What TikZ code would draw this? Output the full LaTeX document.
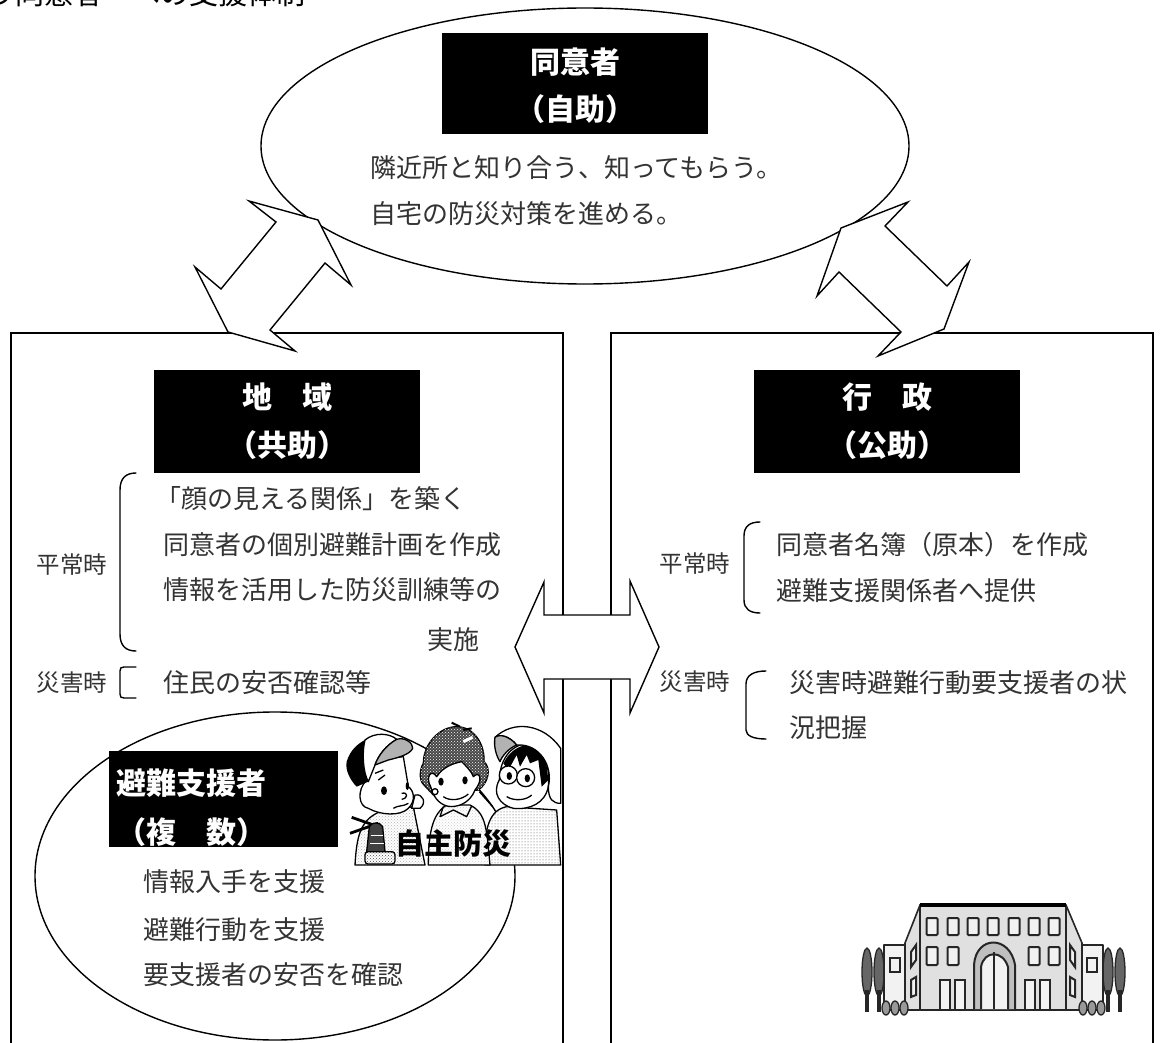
\documentclass[tikz,border=0pt]{standalone}
\usepackage{fontspec}
\usetikzlibrary{patterns}
\newfontfamily\jpfont{Noto Sans CJK JP}
\definecolor{bodyink}{HTML}{333333}
\tikzset{
  line/.style={draw=black,line width=1.4pt},
  arrowshape/.style={draw=black,line width=1.4pt,fill=white,line join=miter,miter limit=6},
  header/.style={fill=black,inner sep=0pt,outer sep=0pt},
  headtext/.style={text=white,inner sep=0pt,font=\jpfont\bfseries\fontsize{30}{30}\selectfont},
  bodytext/.style={anchor=west,inner sep=0pt,text=bodyink,font=\jpfont\fontsize{26}{26}\selectfont},
  sidetext/.style={anchor=center,inner sep=0pt,text=bodyink,font=\jpfont\fontsize{23.5}{24}\selectfont},
  bracket/.style={draw=black,line width=1.4pt,line cap=round},
  ink/.style={draw=black,line width=1.3pt,line join=round},
  wall/.style={draw=black!85,line width=1.6pt,fill=black!12,line join=round},
  pane/.style={draw=black!85,line width=2pt,fill=black!5},
  tree/.style={draw=black!85,line width=1.3pt,fill=black!60},
}
\begin{document}
\begin{tikzpicture}[x=1pt,y=-1pt]
\clip (0,0) rectangle (1163,1043);
\useasboundingbox (0,0) rectangle (1163,1043);
\fill[white] (0,0) rectangle (1163,1043);

% title, cropped by the top edge of the page
\node[anchor=base east,inner sep=0pt,font=\jpfont\fontsize{29}{29}\selectfont] (title) at (306,5) {う同意者　への支援体制};

% boxes
\draw[line] (11,1050) -- (11,333) -- (563,333) -- (563,1050);
\draw[line] (611,1050) -- (611,333) -- (1153,333) -- (1153,1050);

% top ellipse
\draw[line] (585,146) ellipse [x radius=324,y radius=138];

% double arrows
\draw[arrowshape] (318,220) -- (351,285) -- (325,263) -- (270,330) -- (295,351) -- (228,332) -- (195,267) -- (221,289) -- (276,222) -- (249,201) -- cycle;
\draw[arrowshape] (841,228) -- (817,296) -- (839,272) -- (901,332) -- (878,356) -- (944,329) -- (969,262) -- (947,286) -- (885,226) -- (908,202) -- cycle;
\draw[arrowshape] (515,647) -- (544,582) -- (544,615) -- (630,615) -- (630,581) -- (659,647) -- (630,713) -- (630,679) -- (544,679) -- (544,713) -- cycle;

% top header
\fill[header] (442,33) rectangle (708,134);
\node[headtext] (selfa) at (575,62) {同意者};
\node[headtext] (selfb) at (575,109) {（自助）};
\node[bodytext] (selfc) at (370,168) {隣近所と知り合う、知ってもらう。};
\node[bodytext] (selfd) at (370,214) {自宅の防災対策を進める。};

% left header
\fill[header] (154,370) rectangle (420,473);
\node[headtext] (coma) at (287,397) {地　域};
\node[headtext] (comb) at (287,445) {（共助）};

% right header
\fill[header] (754,370) rectangle (1020,473);
\node[headtext] (puba) at (887,397) {行　政};
\node[headtext] (pubb) at (887,445) {（公助）};

% left text
\node[sidetext] (la) at (72,565) {平常時};
\draw[bracket] (136,473) .. controls (126,473) and (120,478) .. (120,490) -- (120,634) .. controls (120,646) and (126,651) .. (136,651);
\node[bodytext] (lb) at (155,499) {「顔の見える関係」を築く};
\node[bodytext] (lc) at (163,545) {同意者の個別避難計画を作成};
\node[bodytext] (ld) at (163,590) {情報を活用した防災訓練等の};
\node[bodytext] (le) at (427,640) {実施};
\node[sidetext] (lf) at (72,683) {災害時};
\draw[bracket] (136,667) -- (124,667) .. controls (121,667) and (120,668) .. (120,671) -- (120,694) .. controls (120,697) and (121,698) .. (124,698) -- (136,698);
\node[bodytext] (lg) at (163,683) {住民の安否確認等};

% right text
\node[sidetext] (ra) at (695,564) {平常時};
\draw[bracket] (760,522) .. controls (750,522) and (744,526) .. (744,536) -- (744,600) .. controls (744,609) and (750,613) .. (760,613);
\node[bodytext] (rb) at (776,545) {同意者名簿（原本）を作成};
\node[bodytext] (rc) at (776,591) {避難支援関係者へ提供};
\node[sidetext] (rd) at (695,682) {災害時};
\draw[bracket] (766,671) .. controls (754,671) and (746,675) .. (746,684) -- (746,730) .. controls (746,736) and (754,739) .. (766,739);
\node[bodytext] (re) at (789,683) {災害時避難行動要支援者の状};
\node[bodytext] (rf) at (789,728) {況把握};

% support ellipse
\draw[line] (275,876) ellipse [x radius=240,y radius=164];
\fill[header] (109,751) rectangle (338,847);
\node[headtext] (supa) at (191,783) {避難支援者};
\node[headtext] (supb) at (191,832) {（複　数）};
\node[bodytext] (supc) at (143,882) {情報入手を支援};
\node[bodytext] (supd) at (143,930) {避難行動を支援};
\node[bodytext] (supe) at (143,975) {要支援者の安否を確認};

% cartoon of three residents (zoomed coordinates, 3 units = 1 pixel)
\begin{scope}[shift={(300,680)},scale=1/3]
  % right person
  \path[ink,preaction={fill=white},pattern=dots,pattern color=black!70] (555,555) .. controls (550,440) and (570,390) .. (620,380) -- (770,390) -- (782,555) -- cycle;
  \path[ink,fill=white] (598,300) .. controls (600,230) and (640,190) .. (690,190) .. controls (730,195) and (750,250) .. (745,320) .. controls (735,370) and (690,390) .. (640,385) .. controls (600,375) and (575,340) .. (598,300) -- cycle;
  \fill[black] (610,250) .. controls (640,190) and (700,180) .. (735,215) -- (745,300) -- (725,320) -- (715,240) -- (690,250) -- (680,225) -- (660,260) -- (650,225) -- (625,270) -- cycle;
  \draw[ink,fill=white] (625,285) circle [radius=27];
  \draw[ink,fill=white] (677,293) circle [radius=27];
  \fill (628,288) circle [x radius=8,y radius=12];
  \fill (682,295) circle [x radius=8,y radius=12];
  \draw[ink] (620,350) .. controls (645,365) and (680,360) .. (695,345);
  \draw[ink,fill=white] (585,172) .. controls (640,120) and (730,130) .. (782,205) -- (782,370) .. controls (760,370) and (745,360) .. (745,320) .. controls (760,260) and (720,190) .. (650,195) .. controls (630,170) and (600,160) .. (585,172) -- cycle;
  \draw[ink,fill=black!30] (585,172) .. controls (600,160) and (630,170) .. (650,195) .. controls (625,205) and (605,230) .. (600,245) .. controls (590,230) and (580,200) .. (585,172) -- cycle;
  % left person
  \path[ink,preaction={fill=white},pattern=crosshatch dots,pattern color=black!30] (165,555) .. controls (170,470) and (180,420) .. (240,395) -- (340,380) -- (375,555) -- cycle;
  \draw[ink,fill=white] (200,300) .. controls (170,330) and (175,380) .. (205,385) .. controls (240,405) and (300,410) .. (325,385) .. controls (350,360) and (340,330) .. (325,320) -- (310,230) -- (230,240) -- cycle;
  \draw[ink,fill=white] (345,345) .. controls (370,340) and (380,370) .. (360,385) -- (335,385) -- cycle;
  \fill (252,332) circle [x radius=9,y radius=13];
  \fill (322,318) circle [x radius=5,y radius=12];
  \draw[ink] (280,385) .. controls (295,375) and (310,380) .. (325,370);
  \draw[ink] (305,340) .. controls (325,335) and (325,355) .. (305,358);
  \draw[ink] (225,280) -- (250,270) (235,300) -- (255,285);
  \fill[black] (140,245) .. controls (150,210) and (175,190) .. (195,180) .. controls (185,220) and (190,280) .. (205,305) -- (170,320) .. controls (150,300) and (135,270) .. (140,245) -- cycle;
  \draw[ink,fill=white] (195,180) .. controls (225,155) and (270,160) .. (290,178) .. controls (260,195) and (235,225) .. (225,255) -- (205,305) .. controls (190,280) and (185,220) .. (195,180) -- cycle;
  \draw[ink,fill=black!30] (290,178) .. controls (315,170) and (340,190) .. (338,205) .. controls (330,225) and (285,235) .. (265,240) -- (225,255) .. controls (235,225) and (260,195) .. (290,178) -- cycle;
  % extinguisher
  \draw[black,line width=2.8pt] (155,412) -- (235,440);
  \draw[black,line width=2.8pt] (150,460) -- (235,430);
  \draw[ink,fill=black!75] (208,440) .. controls (215,425) and (240,425) .. (248,440) -- (255,515) -- (200,515) -- cycle;
  \draw[white,line width=1pt] (212,465) -- (250,465) (210,490) -- (252,490);
  \draw[ink,preaction={fill=white},pattern=crosshatch dots,pattern color=black!70,rounded corners=3pt] (195,515) rectangle (285,552);
  % middle person
  \path[ink,preaction={fill=white},pattern=crosshatch dots,pattern color=black!20] (385,555) .. controls (385,450) and (400,400) .. (440,375) -- (510,375) .. controls (560,400) and (560,450) .. (570,555) -- cycle;
  \draw[ink] (430,380) -- (420,410) -- (460,390) -- (500,410) -- (515,378);
  \draw[ink,fill=black!72] (372,315) .. controls (355,300) and (360,265) .. (370,250) .. controls (370,190) and (420,140) .. (470,140) .. controls (520,140) and (555,190) .. (552,245) .. controls (575,265) and (565,310) .. (535,330) -- (400,345) -- cycle;
  \path[pattern=crosshatch dots,pattern color=white] (372,315) .. controls (355,300) and (360,265) .. (370,250) .. controls (370,190) and (420,140) .. (470,140) .. controls (520,140) and (555,190) .. (552,245) .. controls (575,265) and (565,310) .. (535,330) -- (400,345) -- cycle;
  \draw[ink,fill=white] (392,320) .. controls (375,290) and (395,265) .. (410,290) .. controls (430,260) and (460,250) .. (485,245) .. controls (500,260) and (515,275) .. (520,290) .. controls (540,270) and (550,300) .. (525,330) .. controls (510,370) and (470,385) .. (440,378) .. controls (415,370) and (400,350) .. (392,320) -- cycle;
  \fill (423,305) circle [x radius=8,y radius=12];
  \fill (495,301) circle [x radius=8,y radius=12];
  \draw[ink] (430,350) .. controls (450,365) and (485,360) .. (505,342);
  \draw[black,line width=2pt] (480,140) -- (455,128) (490,150) -- (515,145);
  \draw[white,line width=3pt] (490,185) -- (518,172);
  \draw[ink,fill=white] (405,335) circle [radius=9];
  % ellipse line seen between the heads
  \draw[line] (538,335) -- (578,380);
\end{scope}
\node[inner sep=0pt,font=\jpfont\bfseries\fontsize{29}{29}\selectfont] (bosai) at (453,843) {自主防災};

% town hall
\draw[tree] (867,972) ellipse [x radius=5,y radius=24];
\draw[black!85,line width=4pt] (867,990) -- (867,1012);
\draw[tree] (879,972) ellipse [x radius=5,y radius=24];
\draw[black!85,line width=4pt] (879,990) -- (879,1012);
\draw[tree] (1120,972) ellipse [x radius=5,y radius=24];
\draw[black!85,line width=4pt] (1120,990) -- (1120,1012);
\draw[tree] (1108,972) ellipse [x radius=5,y radius=24];
\draw[black!85,line width=4pt] (1108,990) -- (1108,1012);
\draw[wall,fill=black!5] (884,945) rectangle (905,1010);
\draw[wall,fill=black!5] (1082,945) rectangle (1103,1010);
\draw[pane] (890,958) rectangle (900,972);
\draw[pane] (1087,958) rectangle (1097,972);
\draw[wall] (905,943) -- (920,905) -- (920,1010) -- (905,1010) -- cycle;
\draw[wall] (1082,943) -- (1066,905) -- (1066,1010) -- (1082,1010) -- cycle;
\draw[wall] (920,905) rectangle (1066,1010);
\draw[black,line width=4pt] (920,905) -- (1066,905);
\foreach \cx in {932,953,973,993,1014,1034,1054}{
  \draw[pane,rounded corners=1pt] (\cx-5.5,918) rectangle (\cx+5.5,935);
}
\foreach \cx in {932,953,1034,1054}{
  \draw[pane,rounded corners=1pt] (\cx-5.5,947) rectangle (\cx+5.5,965);
}
\draw[pane] (911,952) -- (916,945) -- (916,960) -- (911,967) -- cycle;
\draw[pane] (911,980) -- (916,977) -- (916,995) -- (911,997) -- cycle;
\draw[pane] (1075,952) -- (1070,945) -- (1070,960) -- (1075,967) -- cycle;
\draw[pane] (1075,980) -- (1070,977) -- (1070,995) -- (1075,997) -- cycle;
\foreach \cx in {940,955,1025,1040}{
  \draw[pane] (\cx,1009) -- (\cx,980) -- (\cx+10,980) -- (\cx+10,1009);
}
\draw[wall,fill=black!25,line width=2pt] (974,1009) -- (974,965) .. controls (976,935) and (1010,935) .. (1015,965) -- (1015,1009);
\draw[draw=black!85,line width=2pt,fill=black!5] (981,1009) -- (981,967) .. controls (984,950) and (1003,950) .. (1008,967) -- (1008,1009);
\draw[black!85,line width=2pt] (994,952) -- (994,1009);
\foreach \cx in {886,895,904,1083,1092,1101}{
  \draw[tree,fill=black!40] (\cx,1008) ellipse [x radius=4,y radius=7];
}
\end{tikzpicture}
\end{document}
